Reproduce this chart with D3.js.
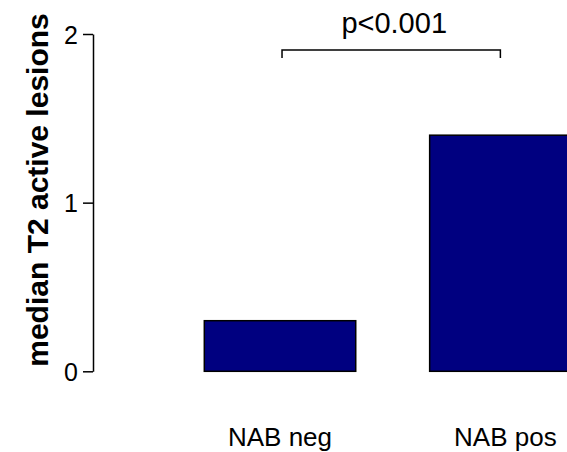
<!DOCTYPE html>
<meta charset="utf-8">
<style>
  body { margin: 0; background: #fff; }
  svg { display: block; font-family: "Liberation Sans", Arial, sans-serif; }
  .bar { fill: #000080; stroke: #000; stroke-width: 1.5; }
  .axis path, .axis line { stroke: #000; stroke-width: 1.5; }
  .axis text { font-size: 25px; fill: #000; font-family: "Liberation Sans", Arial, sans-serif; }
</style>
<body>
<script src="https://cdn.jsdelivr.net/npm/d3@7"></script>
<script>

var categories = ["NAB neg", "NAB pos"];
var medians = [0.3, 1.4];
var yTicks = [0, 1, 2];
var pLabel = "p<0.001";

var w = 567, h = 452;

var svg = d3.select("body").append("svg")
    .attr("width", w)
    .attr("height", h);

var yscale = d3.scaleLinear()
    .domain([0, 2])
    .range([371.3, 34]);

// bars run off the right edge, like the original
var xscale = d3.scaleBand()
    .domain(categories)
    .range([204.3, 581.1])
    .paddingInner(0.328)
    .paddingOuter(0);

var yaxis = d3.axisLeft(yscale)
    .tickValues(yTicks)
    .tickFormat(d3.format("d"))
    .tickSize(10)
    .tickSizeOuter(0)
    .tickPadding(5);

svg.append("g")
    .attr("class", "axis")
    .attr("transform", "translate(93,0)")
    .call(yaxis)
    .call(function(g) { g.selectAll("text").attr("dy", "0.36em"); });

svg.selectAll("rect.bar")
    .data(medians)
    .enter()
    .append("rect")
    .attr("class", "bar")
    .attr("x", function(d, i) { return xscale(categories[i]); })
    .attr("y", function(d) { return yscale(d); })
    .attr("width", xscale.bandwidth())
    .attr("height", function(d) { return yscale(0) - yscale(d); });

// category labels below the bars
svg.selectAll("text.cat")
    .data(categories)
    .enter()
    .append("text")
    .attr("class", "cat")
    .attr("x", function(d) { return xscale(d) + xscale.bandwidth() / 2; })
    .attr("y", 445.5)
    .attr("text-anchor", "middle")
    .style("font-size", "26px")
    .text(function(d) { return d; });

// significance bracket
var x1 = xscale(categories[0]) + xscale.bandwidth() / 2 + 2,
    x2 = xscale(categories[1]) + xscale.bandwidth() / 2 - 5,
    yTop = yscale(1.905),
    yEnd = yscale(1.858);

svg.append("path")
    .attr("d", "M" + x1 + "," + yEnd + "V" + yTop + "H" + x2 + "V" + yEnd)
    .attr("fill", "none")
    .attr("stroke", "#000")
    .attr("stroke-width", 1.5);

svg.append("text")
    .attr("x", (x1 + x2) / 2 + 3)
    .attr("y", 33)
    .attr("text-anchor", "middle")
    .style("font-size", "29px")
    .text(pLabel);

// y axis title
svg.append("text")
    .attr("transform", "translate(47.5," + 190 + ") rotate(-90)")
    .attr("text-anchor", "middle")
    .style("font-size", "30px")
    .style("font-weight", "bold")
    .text("median T2 active lesions");

</script>
</body>
